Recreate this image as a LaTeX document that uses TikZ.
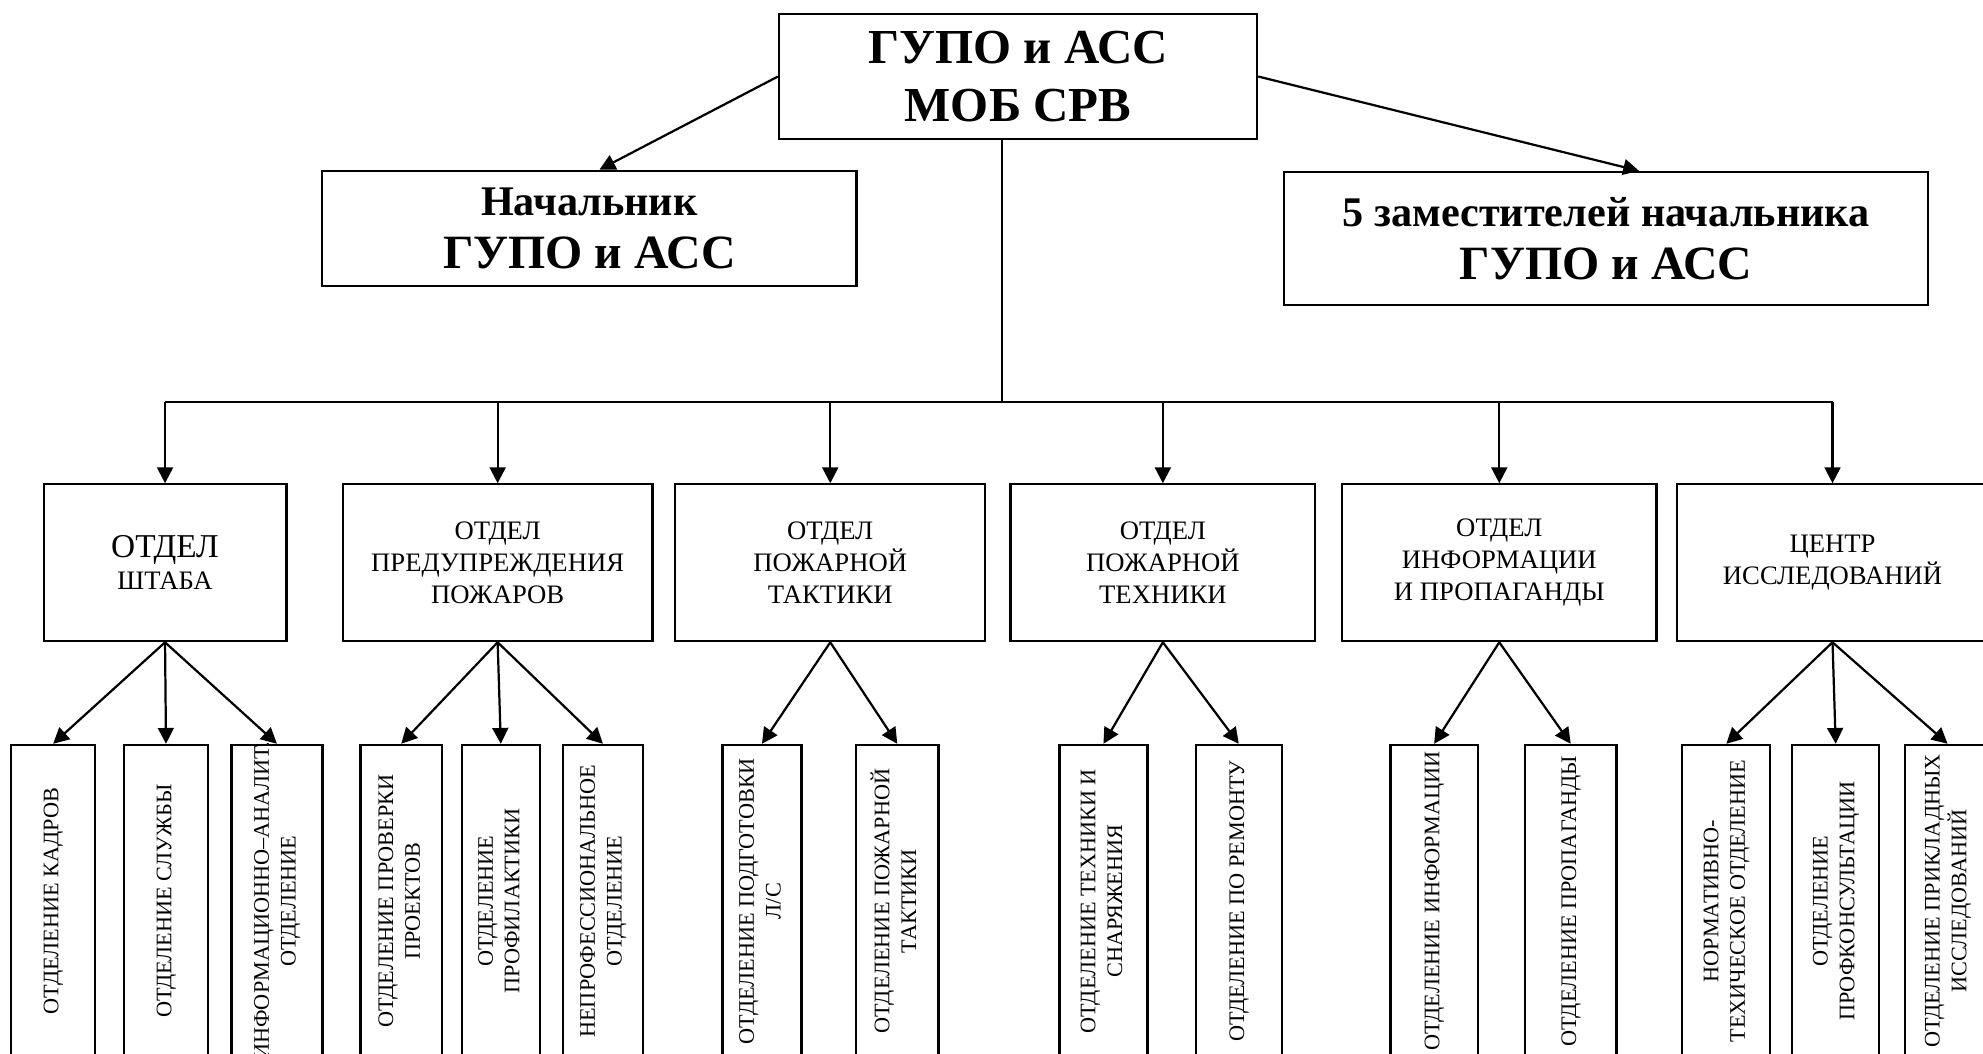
\documentclass[tikz,border=0pt]{standalone}
\usepackage{fontspec}
\setmainfont{Liberation Serif}
\usepackage{graphicx}
\usetikzlibrary{arrows.meta}

\newcommand{\vtext}[1]{\rotatebox{90}{\begin{tabular}{@{}c@{}}#1\end{tabular}}}

\begin{document}
\begin{tikzpicture}[>={Triangle[length=2.5mm,width=2.5mm]}, line width=1pt,
    head/.style={draw, align=center, font=\fontsize{22}{26.5}\selectfont\bfseries},
    boss/.style={draw, align=center, font=\fontsize{21.5}{24}\selectfont\bfseries},
    dept/.style={draw, align=center, minimum height=2.48cm, font=\fontsize{12}{14.5}\selectfont},
    sect/.style={draw, minimum height=4.94cm, inner sep=0pt, font=\fontsize{10}{12}\selectfont}]
    \useasboundingbox (0,0) rectangle (31.36,-16.66);

    % top: management
    \node [head, minimum width=7.56cm, minimum height=1.98cm] (gupo) at (16.10,-1.21) {ГУПО и АСС\\МОБ СРВ};
    \node [boss, minimum width=8.45cm, minimum height=1.82cm] (chief) at (9.32,-3.61)
        {{\fontsize{19}{24}\selectfont Начальник}\\ГУПО и АСС};
    \node [boss, minimum width=10.19cm, minimum height=2.10cm] (deputy) at (25.40,-3.77)
        {{\fontsize{19}{24}\selectfont 5 заместителей начальника}\\ГУПО и АСС};

    \draw[->] (gupo.west) -- ([xshift=1.6mm]chief.north);
    \draw[->] (gupo.east) -- ([xshift=5.2mm]deputy.north);

    % middle row: departments
    \node [dept, minimum width=3.84cm] (d1) at (2.61,-8.9) {{\fontsize{15}{18}\selectfont ОТДЕЛ}\\ШТАБА};
    \node [dept, minimum width=4.90cm] (d2) at (7.87,-8.9) {ОТДЕЛ\\ПРЕДУПРЕЖДЕНИЯ\\ПОЖАРОВ};
    \node [dept, minimum width=4.90cm] (d3) at (13.13,-8.9) {ОТДЕЛ\\ПОЖАРНОЙ\\ТАКТИКИ};
    \node [dept, minimum width=4.82cm] (d4) at (18.39,-8.9) {ОТДЕЛ\\ПОЖАРНОЙ\\ТЕХНИКИ};
    \node [dept, minimum width=4.97cm] (d5) at (23.71,-8.9) {ОТДЕЛ\\ИНФОРМАЦИИ\\И ПРОПАГАНДЫ};
    \node [dept, minimum width=4.92cm] (d6) at (28.98,-8.9) {ЦЕНТР\\ИССЛЕДОВАНИЙ};

    % bus line
    \coordinate (bus) at (15.84,-6.36);
    \draw (gupo.south -| bus) -- (bus);
    \draw (d1.north |- bus) -- (d6.north |- bus);
    \draw[->] (d1.north |- bus) -- (d1.north);
    \draw[->] (d2.north |- bus) -- (d2.north);
    \draw[->] (d3.north |- bus) -- (d3.north);
    \draw[->] (d4.north |- bus) -- (d4.north);
    \draw[->] (d5.north |- bus) -- (d5.north);
    \draw[->] (d6.north |- bus) -- (d6.north);

    % bottom row: sections
    \node [sect, minimum width=1.33cm] (s11) at (0.84,-14.25)  {\vtext{ОТДЕЛЕНИЕ КАДРОВ}};
    \node [sect, minimum width=1.33cm] (s12) at (2.625,-14.25) {\vtext{ОТДЕЛЕНИЕ СЛУЖБЫ}};
    \node [sect, minimum width=1.44cm] (s13) at (4.38,-14.25)  {\vtext{\makebox[0pt]{ИНФОРМАЦИОННО–АНАЛИТ.}\\ОТДЕЛЕНИЕ}};

    \node [sect, minimum width=1.29cm] (s21) at (6.345,-14.25) {\vtext{ОТДЕЛЕНИЕ ПРОВЕРКИ\\ПРОЕКТОВ}};
    \node [sect, minimum width=1.23cm] (s22) at (7.92,-14.25)  {\vtext{ОТДЕЛЕНИЕ\\ПРОФИЛАКТИКИ}};
    \node [sect, minimum width=1.27cm] (s23) at (9.535,-14.25) {\vtext{НЕПРОФЕССИОНАЛЬНОЕ\\ОТДЕЛЕНИЕ}};

    \node [sect, minimum width=1.25cm] (s31) at (12.05,-14.25) {\vtext{ОТДЕЛЕНИЕ ПОДГОТОВКИ\\Л/С}};
    \node [sect, minimum width=1.30cm] (s32) at (14.19,-14.25) {\vtext{ОТДЕЛЕНИЕ ПОЖАРНОЙ\\ТАКТИКИ}};

    \node [sect, minimum width=1.39cm] (s41) at (17.45,-14.25) {\vtext{ОТДЕЛЕНИЕ ТЕХНИКИ И\\СНАРЯЖЕНИЯ}};
    \node [sect, minimum width=1.36cm] (s42) at (19.59,-14.25) {\vtext{ОТДЕЛЕНИЕ ПО РЕМОНТУ}};

    \node [sect, minimum width=1.38cm] (s51) at (22.68,-14.25) {\vtext{ОТДЕЛЕНИЕ ИНФОРМАЦИИ}};
    \node [sect, minimum width=1.45cm] (s52) at (24.84,-14.25) {\vtext{ОТДЕЛЕНИЕ ПРОПАГАНДЫ}};

    \node [sect, minimum width=1.39cm] (s61) at (27.30,-14.25) {\vtext{НОРМАТИВНО-\\ТЕХИЧЕСКОЕ ОТДЕЛЕНИЕ}};
    \node [sect, minimum width=1.37cm] (s62) at (29.03,-14.25) {\vtext{ОТДЕЛЕНИЕ\\ПРОФКОНСУЛЬТАЦИИ}};
    \node [sect, minimum width=1.36cm] (s63) at (30.80,-14.25) {\vtext{ОТДЕЛЕНИЕ ПРИКЛАДНЫХ\\ИССЛЕДОВАНИЙ}};

    % fan arrows
    \draw[->] (d1.south) -- (s11.north);
    \draw[->] (d1.south) -- (s12.north);
    \draw[->] (d1.south) -- (s13.north);
    \draw[->] (d2.south) -- (s21.north);
    \draw[->] (d2.south) -- (s22.north);
    \draw[->] (d2.south) -- (s23.north);
    \draw[->] (d3.south) -- (s31.north);
    \draw[->] (d3.south) -- (s32.north);
    \draw[->] (d4.south) -- (s41.north);
    \draw[->] (d4.south) -- (s42.north);
    \draw[->] (d5.south) -- (s51.north);
    \draw[->] (d5.south) -- (s52.north);
    \draw[->] (d6.south) -- (s61.north);
    \draw[->] (d6.south) -- (s62.north);
    \draw[->] (d6.south) -- (s63.north);
\end{tikzpicture}
\end{document}
